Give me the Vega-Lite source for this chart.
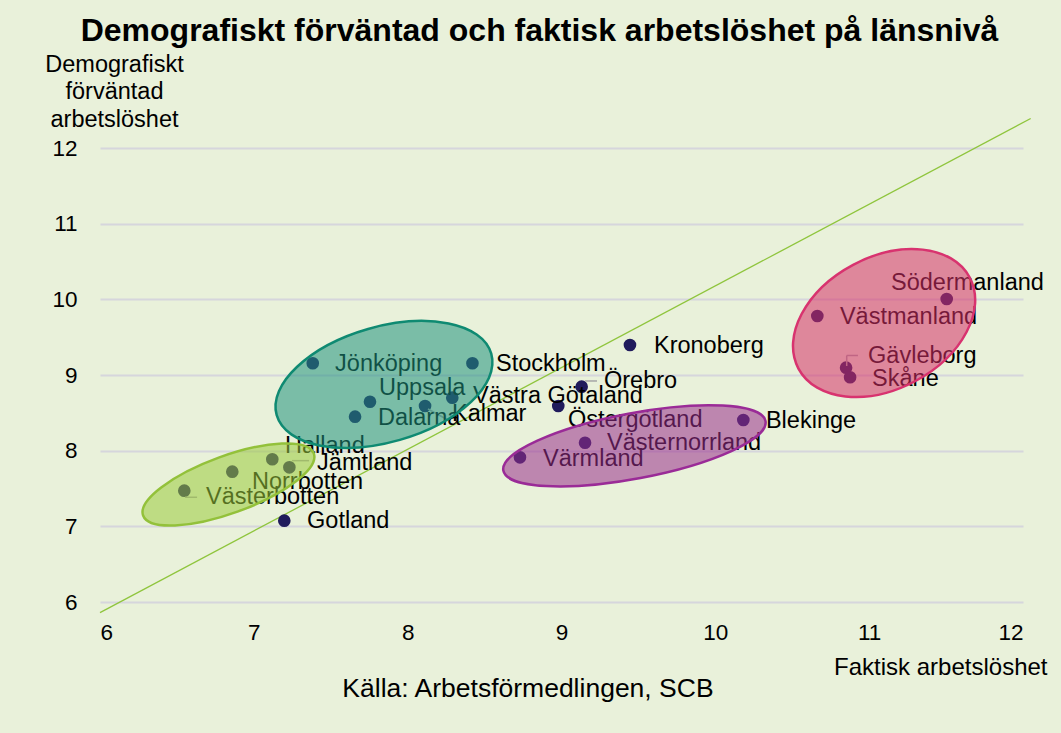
{
  "$schema": "https://vega.github.io/schema/vega-lite/v6.json",
  "width": 923,
  "height": 454,
  "autosize": {"type": "none"},
  "padding": {"left": 100, "top": 148, "right": 38, "bottom": 131},
  "background": "#e9f1da",
  "config": {
    "font": "Liberation Sans",
    "view": {"stroke": null},
    "axis": {"labelColor": "#000000", "titleColor": "#000000", "labelFont": "Liberation Sans", "titleFont": "Liberation Sans"}
  },
  "title": {
    "text": "Demografiskt förväntad och faktisk arbetslöshet på länsnivå",
    "fontSize": 32,
    "fontWeight": "bold",
    "color": "#000000",
    "anchor": "middle",
    "baseline": "alphabetic",
    "dx": -22,
    "offset": -21
  },
  "datasets": {
    "counties": [
      {"name": "Jönköping", "x": 7.383, "y": 9.155},
      {"name": "Stockholm", "x": 8.421, "y": 9.155},
      {"name": "Uppsala", "x": 7.755, "y": 8.647},
      {"name": "Dalarna", "x": 7.658, "y": 8.449},
      {"name": "Kalmar", "x": 8.113, "y": 8.59},
      {"name": "Västra Götaland", "x": 8.29, "y": 8.7},
      {"name": "Kronoberg", "x": 9.445, "y": 9.397},
      {"name": "Örebro", "x": 9.131, "y": 8.846},
      {"name": "Östergötland", "x": 8.979, "y": 8.59},
      {"name": "Blekinge", "x": 10.182, "y": 8.405},
      {"name": "Västernorrland", "x": 9.153, "y": 8.105},
      {"name": "Värmland", "x": 8.73, "y": 7.912},
      {"name": "Halland", "x": 7.12, "y": 7.886},
      {"name": "Jämtland", "x": 7.231, "y": 7.78},
      {"name": "Norrbotten", "x": 6.86, "y": 7.722},
      {"name": "Västerbotten", "x": 6.548, "y": 7.471},
      {"name": "Gotland", "x": 7.198, "y": 7.075},
      {"name": "Södermanland", "x": 11.504, "y": 10.004},
      {"name": "Västmanland", "x": 10.663, "y": 9.78},
      {"name": "Gävleborg", "x": 10.85, "y": 9.097},
      {"name": "Skåne", "x": 10.876, "y": 8.97}
    ],
    "labels": [
      {"name": "Jönköping", "x": 7.528, "y": 9.146},
      {"name": "Stockholm", "x": 8.574, "y": 9.146},
      {"name": "Uppsala", "x": 7.814, "y": 8.828},
      {"name": "Dalarna", "x": 7.807, "y": 8.432},
      {"name": "Kalmar", "x": 8.288, "y": 8.485},
      {"name": "Västra Götaland", "x": 8.425, "y": 8.723},
      {"name": "Kronoberg", "x": 9.601, "y": 9.383},
      {"name": "Örebro", "x": 9.276, "y": 8.921},
      {"name": "Östergötland", "x": 9.042, "y": 8.405},
      {"name": "Blekinge", "x": 10.329, "y": 8.392},
      {"name": "Västernorrland", "x": 9.296, "y": 8.101},
      {"name": "Värmland", "x": 8.88, "y": 7.89},
      {"name": "Halland", "x": 7.203, "y": 8.062},
      {"name": "Jämtland", "x": 7.411, "y": 7.837},
      {"name": "Norrbotten", "x": 6.988, "y": 7.586},
      {"name": "Västerbotten", "x": 6.689, "y": 7.388},
      {"name": "Gotland", "x": 7.346, "y": 7.071},
      {"name": "Södermanland", "x": 11.142, "y": 10.216},
      {"name": "Västmanland", "x": 10.81, "y": 9.767},
      {"name": "Gävleborg", "x": 10.993, "y": 9.251},
      {"name": "Skåne", "x": 11.019, "y": 8.947}
    ],
    "leaders": [
      {"x": 9.153, "y": 8.921, "x2": 9.231, "y2": 8.921},
      {"x": 7.248, "y": 7.868, "x2": 7.359, "y2": 7.868},
      {"x": 6.553, "y": 7.384, "x2": 6.631, "y2": 7.384},
      {"x": 10.854, "y": 9.119, "x2": 10.854, "y2": 9.258},
      {"x": 10.854, "y": 9.258, "x2": 10.927, "y2": 9.258},
      {"x": 8.132, "y": 8.551, "x2": 8.262, "y2": 8.405}
    ],
    "trend": [
      {"x": 6.0, "y": 5.86},
      {"x": 12.05, "y": 12.39}
    ],
    "ellipses": [
      {"group": "teal", "x": 7.846, "y": 8.875},
      {"group": "green", "x": 6.835, "y": 7.553},
      {"group": "purple", "x": 9.474, "y": 8.064},
      {"group": "pink", "x": 11.097, "y": 9.687}
    ],
    "source": [
      {"text": "Källa: Arbetsförmedlingen, SCB", "x": 8.782, "y": 4.741}
    ]
  },
  "layer": [
    {
      "data": {"name": "trend"},
      "mark": {"type": "line", "color": "#8fc53d", "strokeWidth": 1.3, "clip": false},
      "encoding": {
        "x": {
          "field": "x", "type": "quantitative",
          "scale": {"domain": [6, 12], "nice": false, "zero": false},
          "axis": {
            "values": [6, 7, 8, 9, 10, 11, 12], "format": "d",
            "grid": false, "ticks": false, "domain": false,
            "labelFontSize": 22.5, "labelPadding": 19,
            "title": "Faktisk arbetslöshet",
            "titleFontSize": 24, "titleFontWeight": "normal",
            "titleAlign": "right", "titleAnchor": "end", "titleBaseline": "alphabetic",
            "titleX": 947, "titleY": 72
          }
        },
        "y": {
          "field": "y", "type": "quantitative",
          "scale": {"domain": [6, 12], "nice": false, "zero": false},
          "axis": {
            "values": [6, 7, 8, 9, 10, 11, 12], "format": "d",
            "grid": true, "gridColor": "#d6d6dc", "gridWidth": 2,
            "ticks": false, "domain": false,
            "labelFontSize": 22.5, "labelPadding": 23,
            "title": ["Demografiskt", "förväntad", "arbetslöshet"],
            "titleFontSize": 23.5, "titleFontWeight": "normal",
            "titleAngle": 0, "titleAlign": "center", "titleBaseline": "alphabetic",
            "titleX": 14, "titleY": -77, "titleLineHeight": 27.7
          }
        }
      }
    },
    {
      "data": {"name": "counties"},
      "mark": {"type": "point", "shape": "circle", "filled": true, "size": 160, "color": "#201b5c", "opacity": 1},
      "encoding": {
        "x": {"field": "x", "type": "quantitative", "scale": {"domain": [6, 12], "nice": false, "zero": false}},
        "y": {"field": "y", "type": "quantitative", "scale": {"domain": [6, 12], "nice": false, "zero": false}}
      }
    },
    {
      "data": {"name": "leaders"},
      "mark": {"type": "rule", "color": "#a6a6a6", "strokeWidth": 1.5},
      "encoding": {
        "x": {"field": "x", "type": "quantitative", "scale": {"domain": [6, 12], "nice": false, "zero": false}},
        "y": {"field": "y", "type": "quantitative", "scale": {"domain": [6, 12], "nice": false, "zero": false}},
        "x2": {"field": "x2"},
        "y2": {"field": "y2"}
      }
    },
    {
      "data": {"name": "labels"},
      "mark": {"type": "text", "align": "left", "baseline": "middle", "fontSize": 23.5, "color": "#000000"},
      "encoding": {
        "x": {"field": "x", "type": "quantitative", "scale": {"domain": [6, 12], "nice": false, "zero": false}},
        "y": {"field": "y", "type": "quantitative", "scale": {"domain": [6, 12], "nice": false, "zero": false}},
        "text": {"field": "name"}
      }
    },
    {
      "data": {"name": "ellipses"},
      "transform": [{"filter": "datum.group === 'teal'"}],
      "mark": {
        "type": "point", "filled": true,
        "shape": "M1,0C1,0.2855,0.5523,0.517,0,0.517C-0.5523,0.517,-1,0.2855,-1,0C-1,-0.2855,-0.5523,-0.517,0,-0.517C0.5523,-0.517,1,-0.2855,1,0Z",
        "size": 49818, "angle": 344,
        "fill": "#1f927d", "fillOpacity": 0.55, "stroke": "#0f8a72", "strokeWidth": 2.5, "strokeOpacity": 1
      },
      "encoding": {
        "x": {"field": "x", "type": "quantitative", "scale": {"domain": [6, 12], "nice": false, "zero": false}},
        "y": {"field": "y", "type": "quantitative", "scale": {"domain": [6, 12], "nice": false, "zero": false}}
      }
    },
    {
      "data": {"name": "ellipses"},
      "transform": [{"filter": "datum.group === 'green'"}],
      "mark": {
        "type": "point", "filled": true,
        "shape": "M1,0C1,0.174,0.5523,0.315,0,0.315C-0.5523,0.315,-1,0.174,-1,0C-1,-0.174,-0.5523,-0.315,0,-0.315C0.5523,-0.315,1,-0.174,1,0Z",
        "size": 32979, "angle": 340,
        "fill": "#9acb3c", "fillOpacity": 0.55, "stroke": "#93c13a", "strokeWidth": 2.5, "strokeOpacity": 1
      },
      "encoding": {
        "x": {"field": "x", "type": "quantitative", "scale": {"domain": [6, 12], "nice": false, "zero": false}},
        "y": {"field": "y", "type": "quantitative", "scale": {"domain": [6, 12], "nice": false, "zero": false}}
      }
    },
    {
      "data": {"name": "ellipses"},
      "transform": [{"filter": "datum.group === 'purple'"}],
      "mark": {
        "type": "point", "filled": true,
        "shape": "M1,0C1,0.1353,0.5523,0.245,0,0.245C-0.5523,0.245,-1,0.1353,-1,0C-1,-0.1353,-0.5523,-0.245,0,-0.245C0.5523,-0.245,1,-0.1353,1,0Z",
        "size": 71182, "angle": 349.3,
        "fill": "#992e8c", "fillOpacity": 0.55, "stroke": "#9a2b97", "strokeWidth": 2.5, "strokeOpacity": 1
      },
      "encoding": {
        "x": {"field": "x", "type": "quantitative", "scale": {"domain": [6, 12], "nice": false, "zero": false}},
        "y": {"field": "y", "type": "quantitative", "scale": {"domain": [6, 12], "nice": false, "zero": false}}
      }
    },
    {
      "data": {"name": "ellipses"},
      "transform": [{"filter": "datum.group === 'pink'"}],
      "mark": {
        "type": "point", "filled": true,
        "shape": "M1,0C1,0.3757,0.5523,0.68,0,0.68C-0.5523,0.68,-1,0.3757,-1,0C-1,-0.3757,-0.5523,-0.68,0,-0.68C0.5523,-0.68,1,-0.3757,1,0Z",
        "size": 37636, "angle": 332,
        "fill": "#d63068", "fillOpacity": 0.55, "stroke": "#d8336f", "strokeWidth": 2.5, "strokeOpacity": 1
      },
      "encoding": {
        "x": {"field": "x", "type": "quantitative", "scale": {"domain": [6, 12], "nice": false, "zero": false}},
        "y": {"field": "y", "type": "quantitative", "scale": {"domain": [6, 12], "nice": false, "zero": false}}
      }
    },
    {
      "data": {"name": "source"},
      "mark": {"type": "text", "align": "center", "baseline": "alphabetic", "fontSize": 26.5, "color": "#000000", "clip": false},
      "encoding": {
        "x": {"field": "x", "type": "quantitative", "scale": {"domain": [6, 12], "nice": false, "zero": false}},
        "y": {"field": "y", "type": "quantitative", "scale": {"domain": [6, 12], "nice": false, "zero": false}},
        "text": {"field": "text"}
      }
    }
  ]
}
